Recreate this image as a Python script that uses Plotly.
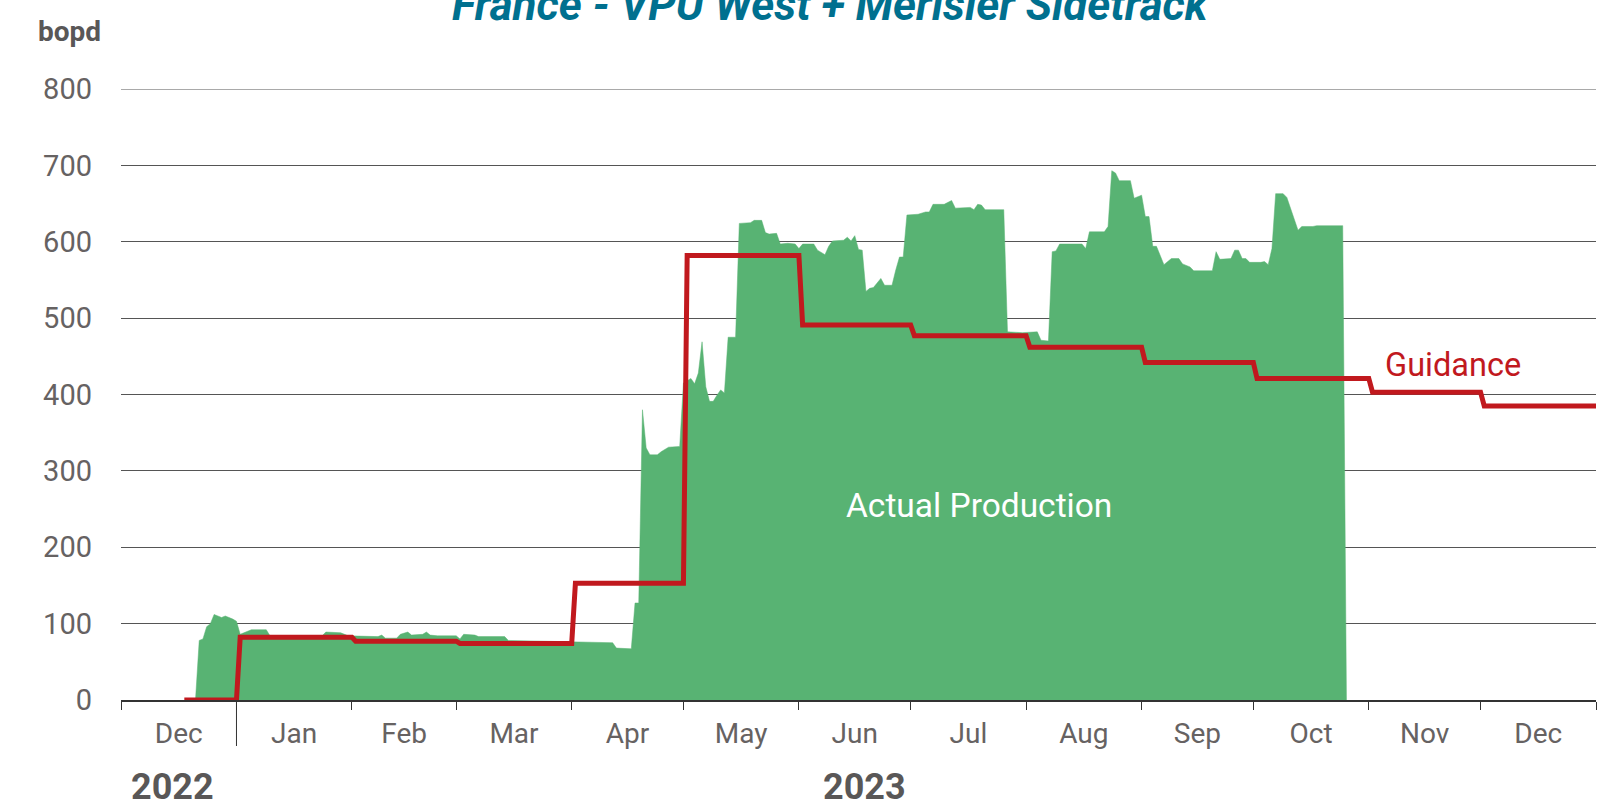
import plotly.graph_objects as go

# ---- data ----
prod_dates = [
    "2022-12-21", "2022-12-22", "2022-12-23", "2022-12-24", "2022-12-25", "2022-12-26",
    "2022-12-28", "2022-12-29", "2022-12-31",
    "2023-01-01", "2023-01-02", "2023-01-04", "2023-01-05", "2023-01-09", "2023-01-10",
    "2023-01-24", "2023-01-25", "2023-01-29", "2023-01-31",
    "2023-02-08", "2023-02-09", "2023-02-10", "2023-02-13", "2023-02-14", "2023-02-16",
    "2023-02-17", "2023-02-20", "2023-02-21", "2023-02-22", "2023-02-24",
    "2023-03-01", "2023-03-02", "2023-03-03", "2023-03-06", "2023-03-07", "2023-03-14",
    "2023-03-15",
    "2023-04-12", "2023-04-13", "2023-04-17", "2023-04-18", "2023-04-19", "2023-04-20",
    "2023-04-21", "2023-04-22", "2023-04-24", "2023-04-25", "2023-04-27", "2023-04-30",
    "2023-05-01", "2023-05-03", "2023-05-04", "2023-05-05", "2023-05-06", "2023-05-07",
    "2023-05-08", "2023-05-09", "2023-05-10", "2023-05-11", "2023-05-12", "2023-05-13",
    "2023-05-15", "2023-05-16", "2023-05-19", "2023-05-20", "2023-05-22", "2023-05-23",
    "2023-05-24", "2023-05-26", "2023-05-27", "2023-05-29", "2023-05-31",
    "2023-06-01", "2023-06-02", "2023-06-05", "2023-06-06", "2023-06-08", "2023-06-09",
    "2023-06-10", "2023-06-13", "2023-06-14", "2023-06-15", "2023-06-16", "2023-06-17",
    "2023-06-18", "2023-06-19", "2023-06-20", "2023-06-21", "2023-06-23", "2023-06-24",
    "2023-06-26", "2023-06-27", "2023-06-28", "2023-06-29", "2023-06-30",
    "2023-07-03", "2023-07-05", "2023-07-06", "2023-07-07", "2023-07-10", "2023-07-12",
    "2023-07-13", "2023-07-17", "2023-07-18", "2023-07-19", "2023-07-20", "2023-07-21",
    "2023-07-25", "2023-07-26", "2023-07-27", "2023-07-31",
    "2023-08-04", "2023-08-05", "2023-08-07", "2023-08-08", "2023-08-09", "2023-08-10",
    "2023-08-16", "2023-08-17", "2023-08-18", "2023-08-22", "2023-08-23", "2023-08-24",
    "2023-08-25", "2023-08-26", "2023-08-29", "2023-08-30",
    "2023-09-01", "2023-09-02", "2023-09-03", "2023-09-04", "2023-09-05", "2023-09-07",
    "2023-09-09", "2023-09-11", "2023-09-12", "2023-09-14", "2023-09-15", "2023-09-20",
    "2023-09-21", "2023-09-22", "2023-09-25", "2023-09-26", "2023-09-27", "2023-09-28",
    "2023-09-29", "2023-09-30",
    "2023-10-03", "2023-10-04", "2023-10-05", "2023-10-06", "2023-10-07", "2023-10-09",
    "2023-10-10", "2023-10-13", "2023-10-14", "2023-10-17", "2023-10-18", "2023-10-25",
    "2023-10-26",
]
prod_values = [
    0, 78, 80, 96, 100, 112,
    108, 110, 106,
    103, 86, 90, 92, 92, 84,
    84, 89, 88, 84,
    83, 85, 81, 81, 86, 89,
    85, 86, 89, 85, 84,
    84, 80, 86, 85, 83, 83,
    78,
    75, 68, 67, 127, 127, 380,
    330, 321, 321, 325, 331, 332,
    415, 421, 414, 428, 469, 410,
    391, 391, 399, 406, 402, 475,
    475, 624, 625, 628, 628, 612,
    610, 611, 597, 598, 597,
    591, 597, 597, 589, 583, 594,
    601, 602, 606, 601, 608, 590,
    589, 535, 539, 540, 552, 543,
    543, 563, 580, 580, 635,
    636, 639, 639, 649, 649, 654,
    644, 645, 642, 649, 648, 642,
    642, 642, 482, 481,
    482, 471, 470, 587, 588, 597,
    597, 591, 613, 613, 620, 693,
    690, 680, 680, 657,
    661, 633, 633, 594, 594, 570,
    578, 578, 571, 567, 562, 562,
    587, 577, 578, 589, 589, 578,
    578, 573,
    573, 574, 570, 591, 663, 663,
    658, 615, 620, 620, 621, 621,
    0,
]

guid_dates = [
    "2022-12-18", "2023-01-01", "2023-01-02", "2023-02-01", "2023-02-02", "2023-03-01",
    "2023-03-02", "2023-04-01", "2023-04-02", "2023-05-01", "2023-05-02", "2023-06-01",
    "2023-06-02", "2023-07-01", "2023-07-02", "2023-08-01", "2023-08-02", "2023-09-01",
    "2023-09-02", "2023-10-01", "2023-10-02", "2023-11-01", "2023-11-02", "2023-12-01",
    "2023-12-02", "2024-01-01",
]
guid_values = [
    0, 0, 82, 82, 77, 77,
    74, 74, 153, 153, 582, 582,
    491, 491, 477, 477, 462, 462,
    442, 442, 421, 421, 403, 403,
    385, 385,
]

y_ticks = [0, 100, 200, 300, 400, 500, 600, 700, 800]
x_range = ["2022-12-01", "2024-01-01"]

GREEN = "#58B373"
RED = "#C1191E"
GREY = "#666262"
DARK = "#595757"
TEAL = "#00708F"
FONT = "Roboto, Liberation Sans, sans-serif"

fig = go.Figure()
fig.add_trace(go.Scatter(
    x=prod_dates, y=prod_values, mode="lines", fill="tozeroy",
    line=dict(color=GREEN, width=0.5), fillcolor=GREEN, hoverinfo="skip",
    showlegend=False,
))
fig.add_trace(go.Scatter(
    x=guid_dates, y=guid_values, mode="lines",
    line=dict(color=RED, width=5), showlegend=False, hoverinfo="skip",
))

fig.update_layout(
    width=1599, height=805,
    margin=dict(l=121, r=3, t=89, b=105),
    paper_bgcolor="white", plot_bgcolor="white",
    font=dict(family=FONT, color=GREY),
    xaxis=dict(
        type="date", range=x_range, dtick="M1", tick0="2022-12-01",
        tickformat="%b", ticklabelmode="period",
        ticks="outside", ticklen=8, tickwidth=1, tickcolor="#333333",
        showline=True, linecolor="#333333", linewidth=1.5,
        showgrid=False, zeroline=False,
        tickfont=dict(size=28, color=GREY, family=FONT),
        ticklabelstandoff=0,
    ),
    yaxis=dict(
        range=[0, 800], tickvals=y_ticks, showgrid=True,
        gridcolor="#555555", gridwidth=1, zeroline=False, showline=False,
        ticks="", tickfont=dict(size=29, color=GREY, family=FONT),
        ticklabelstandoff=28,
    ),
)

# top gridline at 800 (range edge) and long year-separator tick at Jan 2023
fig.add_shape(type="line", xref="paper", yref="y", x0=0, x1=1, y0=800, y1=800,
              line=dict(color="#555555", width=1))
fig.add_shape(type="line", xref="x", yref="paper", x0="2023-01-01", x1="2023-01-01",
              y0=0, y1=-0.0753, line=dict(color="#333333", width=1))

def px_x(p):
    return (p - 121) / 1475

def px_y(p):
    return (700 - p) / 611

anns = [
    dict(text="France - VPU West + Merisier Sidetrack", x=px_x(831), y=px_y(5),
         font=dict(size=44, color=TEAL, family=FONT, weight="bold", style="italic")),
    dict(text="bopd", x=px_x(69), y=px_y(31),
         font=dict(size=28, color=DARK, family=FONT, weight="bold")),
    dict(text="Actual Production", x=px_x(979), y=px_y(505),
         font=dict(size=33.5, color="white", family=FONT)),
    dict(text="Guidance", x=px_x(1453), y=px_y(365),
         font=dict(size=32.5, color=RED, family=FONT)),
    dict(text="2022", x=px_x(172), y=px_y(787),
         font=dict(size=36, color=DARK, family=FONT, weight="bold")),
    dict(text="2023", x=px_x(864), y=px_y(787),
         font=dict(size=36, color=DARK, family=FONT, weight="bold")),
]
for a in anns:
    fig.add_annotation(xref="paper", yref="paper", showarrow=False,
                       xanchor="center", yanchor="middle", **a)

fig.write_html("out.html", config={"displayModeBar": False},
               post_script="document.body.style.margin='0';document.body.style.overflow='hidden';")
